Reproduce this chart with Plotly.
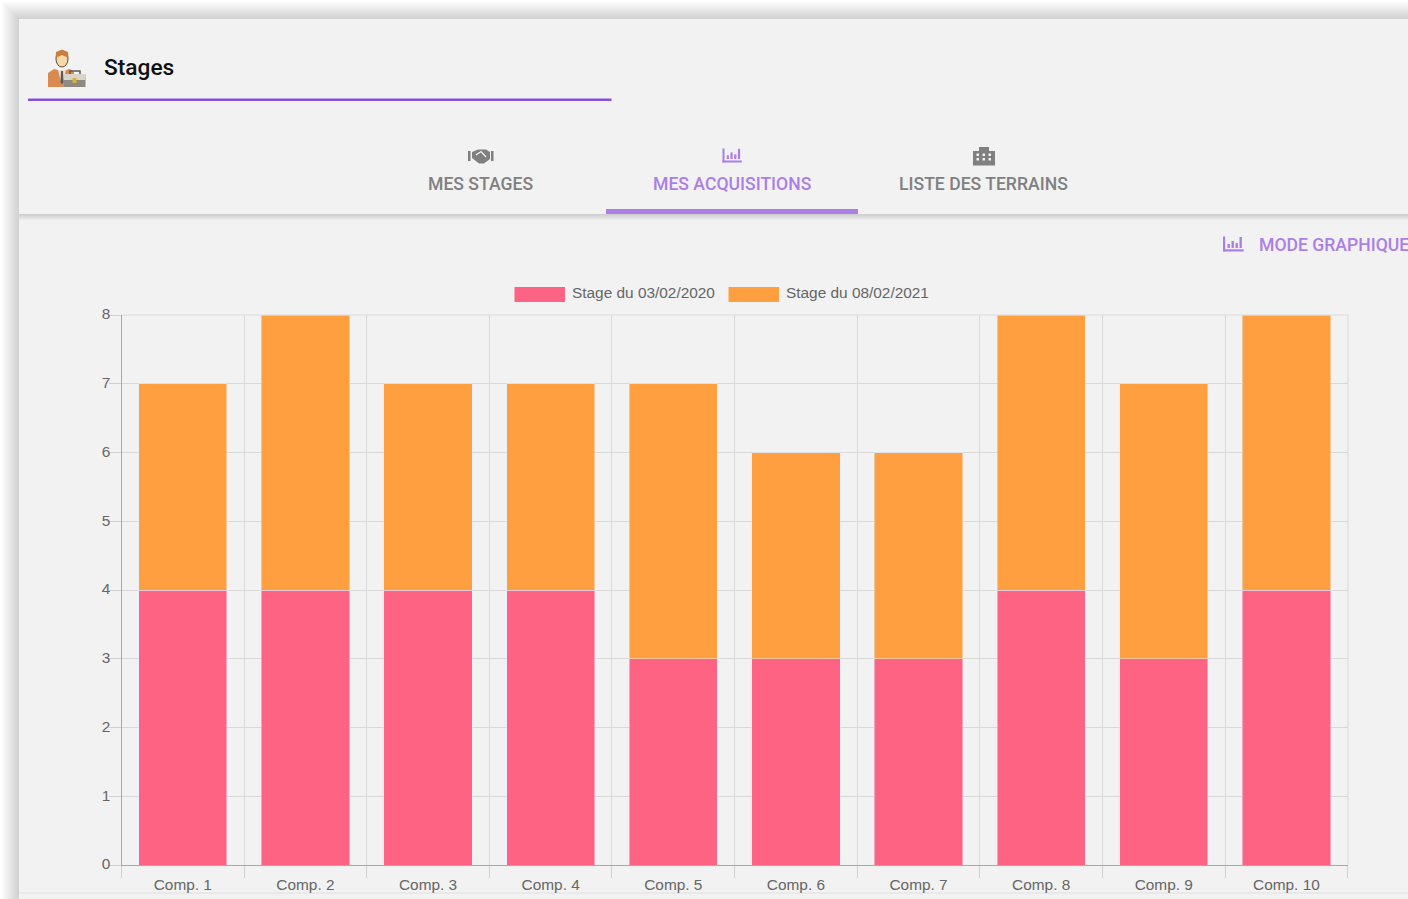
import plotly.graph_objects as go

W, H = 1408, 899
categories = ["Comp. 1", "Comp. 2", "Comp. 3", "Comp. 4", "Comp. 5",
              "Comp. 6", "Comp. 7", "Comp. 8", "Comp. 9", "Comp. 10"]
stage_2020 = [4, 4, 4, 4, 3, 3, 3, 4, 3, 4]
stage_2021 = [3, 4, 3, 3, 4, 3, 3, 4, 4, 4]
name_2020 = "Stage du 03/02/2020"
name_2021 = "Stage du 08/02/2021"
y_ticks = [0, 1, 2, 3, 4, 5, 6, 7, 8]
PINK, ORANGE = "#ff6384", "#ff9f40"
PURPLE, LILAC, GREY = "#8a4fd8", "#ab7fe6", "#808080"
CARD = "#f2f2f2"
GRID = "#d9d9d9"


def X(v):
    return v / W


def Y(v):
    return 1 - v / H


def rect(x0, y0, x1, y1, color, opacity=1.0, layer="below"):
    return dict(type="rect", xref="paper", yref="paper", x0=X(x0), x1=X(x1),
                y0=Y(y0), y1=Y(y1), fillcolor=color, opacity=opacity,
                line_width=0, layer=layer)


def path(pts, color, closed=True, width=0):
    d = "M" + " L".join(f"{X(a):.5f},{Y(b):.5f}" for a, b in pts) + (" Z" if closed else "")
    return dict(type="path", xref="paper", yref="paper", path=d,
                fillcolor=color if closed else "rgba(0,0,0,0)",
                line=dict(color=color, width=width), layer="above")


def chart_icon(x, y, s, color):
    t = 2.2 if s > 14.5 else 2
    out = [rect(x, y, x + t, y + s, color, layer="above"),
           rect(x, y + s - t, x + s * 1.38, y + s, color, layer="above")]
    k = s / 15
    for dx, h in ((4.5, 4), (8.5, 7), (12.5, 5), (16.5, 11)):
        out.append(rect(x + dx * k, y + s - 3.5 - h * k, x + (dx + 2.4) * k, y + s - 3.5, color, layer="above"))
    return out


shapes = []
# page shadow
for i in range(10):
    o = 19 - i * 1.9
    shapes.append(rect(o, o, W + 40, H + 40, "#000000", 0.0185))
shapes.append(rect(19, 19, W, H, CARD))
# tab bar shadow
for i in range(6):
    shapes.append(rect(19, 214, W, 214 + (6 - i), "#000000", 0.022))
shapes.append(rect(19, 892, W, 894, "#e9e9e9"))
# chart frame: top and right edges
shapes.append(rect(121.5, 314.5, 1348, 315.5, GRID))
shapes.append(rect(1347.5, 315, 1348.5, 865, GRID))
# header rule and active tab
shapes.append(rect(28, 98.5, 611.5, 101, PURPLE, layer="above"))
shapes.append(rect(606, 209, 858, 214, LILAC, layer="above"))
# person icon
shapes += [
    path([(48, 87), (48, 73), (54, 69), (62, 71), (70, 69), (74, 72), (74, 87)], "#d98a4e"),
    path([(58, 70), (66, 70), (62, 86)], "#e9e2d4"),
    path([(61, 71), (63, 71), (63.5, 82), (62, 85), (60.5, 82)], "#5c5a52"),
    dict(type="circle", xref="paper", yref="paper", x0=X(56), x1=X(68), y0=Y(67), y1=Y(51),
         fillcolor="#f7d9a8", line=dict(color="#5c4a3a", width=1), layer="above"),
    path([(55.5, 58), (56, 52), (62, 49.5), (68, 52), (68.5, 58), (62, 55)], "#c9803f"),
    rect(64, 74, 85.5, 87, "#8d8a82", layer="above"),
    rect(64, 74, 85.5, 80, "#d9d5c8", layer="above"),
    rect(72.5, 78, 76.5, 83, "#d8b23c", layer="above"),
    path([(70, 74), (70, 71), (80, 71), (80, 74)], "#5c5a52", closed=False, width=1.5),
]
# handshake icon
shapes += [
    rect(468, 151, 470.5, 161, GREY, layer="above"),
    rect(491, 151, 493.5, 161, GREY, layer="above"),
    path([(472, 152), (478, 149.5), (486, 149.5), (490, 152), (490, 159), (484, 163.5),
          (479, 163.5), (472, 158)], GREY),
    path([(476, 155), (481, 151.5), (486, 157)], CARD, closed=False, width=1.3),
]
# building icon
shapes += [path([(973, 165.5), (973, 151), (979, 151), (979, 147), (989, 147), (989, 151),
                 (995, 151), (995, 165.5)], GREY)]
for wx in (976.5, 982.5, 988.5):
    for wy in (153.5, 158):
        shapes.append(rect(wx, wy, wx + 2.5, wy + 2.5, CARD, layer="above"))
# chart icons
shapes += chart_icon(722.5, 148.5, 14, LILAC)
shapes += chart_icon(1223, 236.5, 15, LILAC)
# legend swatches
shapes.append(rect(514.5, 287, 565, 302, PINK, layer="above"))
shapes.append(rect(728.5, 287, 779, 302, ORANGE, layer="above"))


def label(x, y, text, size, color, family="Roboto", anchor="left", weight=500):
    return dict(xref="paper", yref="paper", x=X(x), y=Y(y), text=text, showarrow=False,
                xanchor=anchor, yanchor="middle", xshift=0,
                font=dict(family=family, size=size, color=color, weight=weight))


annotations = [
    label(101.5, 67.5, "Stages", 22.7, "#111111"),
    label(480.5, 184, "MES STAGES", 17.6, GREY, anchor="center"),
    label(732.5, 184, "MES ACQUISITIONS", 17.6, LILAC, anchor="center"),
    label(983.5, 184, "LISTE DES TERRAINS", 17.6, GREY, anchor="center"),
    label(1256.5, 244.5, "MODE GRAPHIQUE", 17.6, LILAC),
    label(570, 292.5, name_2020, 15.4, "#666666", "Liberation Sans", weight=400),
    label(784, 292.5, name_2021, 15.4, "#666666", "Liberation Sans", weight=400),
]

fig = go.Figure()
fig.add_bar(x=categories, y=stage_2020, name=name_2020, marker_color=PINK, showlegend=False)
fig.add_bar(x=categories, y=stage_2021, name=name_2021, marker_color=ORANGE, showlegend=False)
fig.update_layout(
    width=W, height=H, autosize=False, barmode="stack", bargap=0.28,
    margin=dict(l=0, r=0, t=0, b=0, pad=0),
    paper_bgcolor="#ffffff", plot_bgcolor="rgba(0,0,0,0)",
    shapes=shapes, annotations=annotations,
    font=dict(family="Liberation Sans", size=15.4, color="#666666"),
    xaxis=dict(domain=[X(121.5), X(1347.7)], type="category", tickson="boundaries",
               automargin=False, showgrid=True, gridcolor=GRID, gridwidth=1,
               ticks="outside", ticklen=12, tickcolor="#d0d0d0", showline=True,
               linecolor="#a8a8a8", linewidth=1, mirror=False,
               tickfont=dict(size=15.4, color="#666666"), ticklabelstandoff=6),
    yaxis=dict(domain=[Y(865), Y(315)], range=[0, 8], tickvals=y_ticks, automargin=False,
               showgrid=True, gridcolor=GRID, gridwidth=1, ticks="outside", ticklen=12,
               tickcolor="#d0d0d0", showline=True, linecolor="#a8a8a8", linewidth=1,
               zeroline=False, tickfont=dict(size=15.4, color="#666666"),
               ticklabelstandoff=-5, ticklabelshift=-1),
)
fig.write_html("out.html", config={"displayModeBar": False},
               post_script="document.body.style.margin='0';document.body.style.overflow='hidden';")
